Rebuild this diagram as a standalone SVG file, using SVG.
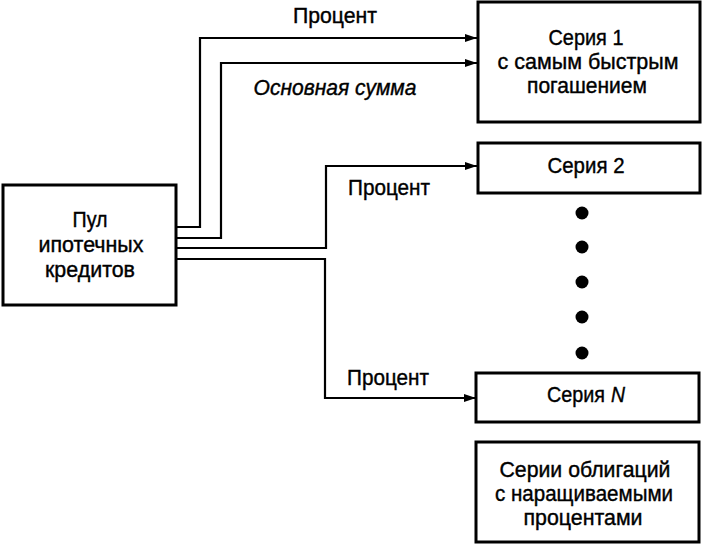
<svg xmlns="http://www.w3.org/2000/svg" width="702" height="547" viewBox="0 0 702 547">
<defs>
<marker id="arr" viewBox="0 0 12 8" refX="12" refY="4" markerWidth="12" markerHeight="8" markerUnits="userSpaceOnUse" orient="auto">
<path d="M0,0 L12,4 L0,8 z" fill="#000"/>
</marker>
</defs>
<style>
.box{fill:#fff;stroke:#000;stroke-width:3}
.ln{fill:none;stroke:#000;stroke-width:2.2}
text{font-family:"Liberation Sans Narrow","Liberation Sans",Arial,sans-serif;font-size:22px;fill:#000;stroke:#000;stroke-width:0.4;text-anchor:middle}
.it{font-style:italic}
.st{text-anchor:start}
</style>
<rect width="702" height="547" fill="#fff"/>
<g id="connectors">
<polyline class="ln" points="177,227 200,227 200,38 477,38" marker-end="url(#arr)"/>
<polyline class="ln" points="177,238 221,238 221,63 477,63" marker-end="url(#arr)"/>
<polyline class="ln" points="177,248 326,248 326,166 477,166" marker-end="url(#arr)"/>
<polyline class="ln" points="177,259 325,259 325,398 476,398" marker-end="url(#arr)"/>
<text x="335" y="23" textLength="84" lengthAdjust="spacingAndGlyphs">Процент</text>
<text class="it" x="335" y="95" textLength="163" lengthAdjust="spacingAndGlyphs">Основная сумма</text>
<text x="389" y="195" textLength="82" lengthAdjust="spacingAndGlyphs">Процент</text>
<text x="388" y="385" textLength="82" lengthAdjust="spacingAndGlyphs">Процент</text>
</g>
<g id="pool">
<rect class="box" x="3" y="185" width="173" height="120"/>
<text x="90" y="227" textLength="35" lengthAdjust="spacingAndGlyphs">Пул</text>
<text x="91" y="252" textLength="105" lengthAdjust="spacingAndGlyphs">ипотечных</text>
<text x="90" y="277" textLength="90" lengthAdjust="spacingAndGlyphs">кредитов</text>
</g>
<g id="series1">
<rect class="box" x="478" y="2" width="222" height="120"/>
<text x="586" y="45" textLength="75" lengthAdjust="spacingAndGlyphs">Серия 1</text>
<text x="588" y="69" textLength="181" lengthAdjust="spacingAndGlyphs">с самым быстрым</text>
<text x="587" y="93" textLength="120" lengthAdjust="spacingAndGlyphs">погашением</text>
</g>
<g id="series2">
<rect class="box" x="478" y="143" width="222" height="50"/>
<text x="586" y="173" textLength="77" lengthAdjust="spacingAndGlyphs">Серия 2</text>
</g>
<g id="dots">
<circle cx="582" cy="213" r="6.5"/>
<circle cx="582" cy="247" r="6.5"/>
<circle cx="582" cy="282" r="6.5"/>
<circle cx="582" cy="317" r="6.5"/>
<circle cx="582" cy="353" r="6.5"/>
</g>
<g id="seriesN">
<rect class="box" x="476" y="373" width="223" height="49"/>
<text class="st" x="547" y="402" textLength="58" lengthAdjust="spacingAndGlyphs">Серия</text>
<text class="st it" x="611" y="402" textLength="14" lengthAdjust="spacingAndGlyphs">N</text>
</g>
<g id="accrual">
<rect class="box" x="476" y="442" width="223" height="100"/>
<text x="585" y="477" textLength="171" lengthAdjust="spacingAndGlyphs">Серии облигаций</text>
<text x="584" y="501" textLength="178" lengthAdjust="spacingAndGlyphs">с наращиваемыми</text>
<text x="583" y="525" textLength="119" lengthAdjust="spacingAndGlyphs">процентами</text>
</g>
</svg>
